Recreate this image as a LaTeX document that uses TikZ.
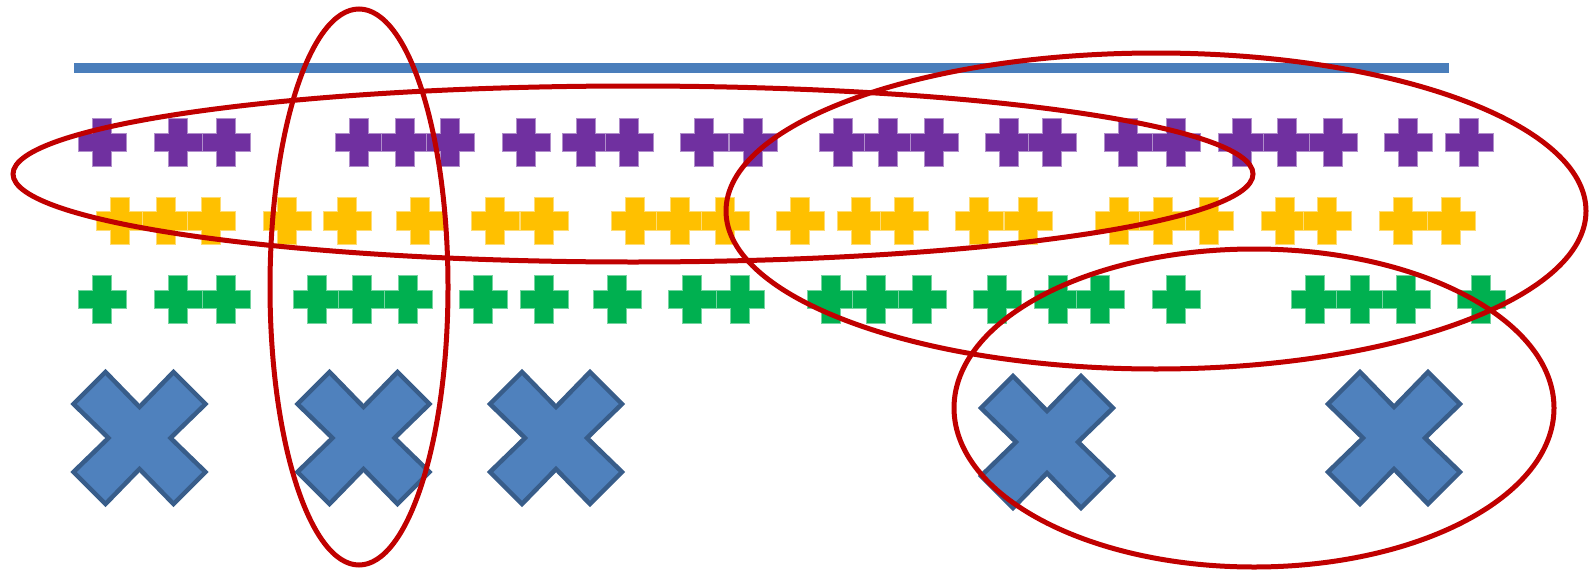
\documentclass[tikz,border=0pt]{standalone}
\usepackage{tikz}
\definecolor{markpurple}{HTML}{7030A0}
\definecolor{markyellow}{HTML}{FFC000}
\definecolor{markgreen}{HTML}{00B050}
\definecolor{ringred}{HTML}{C00000}
\definecolor{barblue}{HTML}{4A7EBB}
\definecolor{crossfill}{HTML}{4F81BD}
\definecolor{crossline}{HTML}{385D8A}
\tikzset{
  purplemark/.style={fill=markpurple, draw=markpurple!55!white, line width=0.25pt},
  yellowmark/.style={fill=markyellow, draw=markyellow!55!white, line width=0.25pt},
  greenmark/.style={fill=markgreen, draw=markgreen!55!white, line width=0.25pt},
  bigcrossstyle/.style={fill=crossfill, draw=crossline, line width=0.45mm, line join=miter},
  ring/.style={draw=ringred, line width=0.5mm}
}
\def\plusmark[#1](#2,#3){\filldraw[#1, shift={(#2,#3)}] (-24,-9.3) -- (-9.3,-9.3) -- (-9.3,-23.8) -- (9.3,-23.8) -- (9.3,-9.3) -- (24,-9.3) -- (24,9.3) -- (9.3,9.3) -- (9.3,23.8) -- (-9.3,23.8) -- (-9.3,9.3) -- (-24,9.3) -- cycle;}
\def\bigcross(#1,#2){\filldraw[bigcrossstyle, shift={(#1,#2)}] (-66,-34) -- (-34,-66) -- (0,-31) -- (34,-66) -- (66,-34) -- (31,0) -- (66,34) -- (34,66) -- (0,31) -- (-34,66) -- (-66,34) -- (-31,0) -- cycle;}

\begin{document}
\begin{tikzpicture}[x=0.1mm, y=-0.1mm]
			%%%%% START %%%%%
			\useasboundingbox (0,0) rectangle (1595,571);
			
			% top bar
			\fill[barblue] (74,63) rectangle (1449,73);
			
			% rows of small crosses
			\foreach \x in {102,178,226,359,405,450,526,586,629,704,753,843,888,934,1009,1052,1128,1176,1242,1287,1333,1408,1469}
				{\plusmark[purplemark](\x,142.5)}
			\foreach \x in {120,166,211,287,347,420,495,544,635,680,725,800,861,904,979,1028,1119,1163,1209,1285,1327,1403,1451}
				{\plusmark[yellowmark](\x,221)}
			\foreach \x in {102,178,226,317,362,408,483,544,617,692,740,831,876,922,997,1058,1100,1176,1315,1360,1406,1481}
				{\plusmark[greenmark](\x,299.5)}
			
			% big crosses
			\bigcross(139.5,438)
			\bigcross(363.5,438)
			\bigcross(556,438)
			\bigcross(1047,442)
			\bigcross(1394,438)
			
			% groups
			\draw[ring] (633,174) ellipse [x radius=620, y radius=88];
			\draw[ring] (359,287) ellipse [x radius=89, y radius=278];
			\draw[ring] (1156,211) ellipse [x radius=430, y radius=158];
			\draw[ring] (1254,408) ellipse [x radius=300, y radius=159];
			
			%%%%% END %%%%%
\end{tikzpicture}
\end{document}
